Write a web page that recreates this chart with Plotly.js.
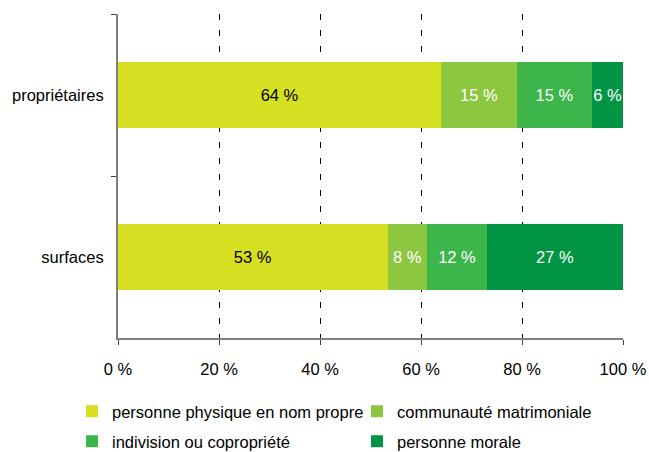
<!DOCTYPE html>
<html>
<head>
<meta charset="utf-8">
<script src="https://cdn.plot.ly/plotly-3.0.1.min.js"></script>
<style>html,body{margin:0;padding:0;background:#fff;}#chart{width:649px;height:452px;}</style>
</head>
<body>
<div id="chart"></div>
<script>
const categories = ['propriétaires', 'surfaces'];
const seriesNames = ['personne physique en nom propre', 'communauté matrimoniale', 'indivision ou copropriété', 'personne morale'];
const personnePhysique = [64.0, 53.4];
const communaute = [15.0, 7.8];
const indivision = [14.9, 11.9];
const personneMorale = [6.1, 26.9];
const xTickVals = [0, 20, 40, 60, 80, 100];
const xTickText = ['0 %', '20 %', '40 %', '60 %', '80 %', '100 %'];

const colors = ['#d6df21', '#8dc63f', '#3cb54a', '#009444'];
const textColors = ['#000000', '#ffffff', '#ffffff', '#ffffff'];
const legendIds = ['legend', 'legend', 'legend2', 'legend2'];
const seriesValues = [personnePhysique, communaute, indivision, personneMorale];

const FONT = 'Liberation Sans, Arial, sans-serif';
const FS = 16.5;

const traces = seriesValues.map((vals, i) => ({
  type: 'bar',
  orientation: 'h',
  name: seriesNames[i],
  y: categories,
  x: vals,
  marker: {color: colors[i], line: {width: 0}},
  texttemplate: '%{x:.0f} %',
  textposition: 'inside',
  insidetextanchor: 'middle',
  textangle: 0,
  constraintext: 'none',
  textfont: {family: FONT, size: FS, color: textColors[i]},
  legend: legendIds[i],
  hoverinfo: 'skip'
}));

const legendBase = {
  orientation: 'h',
  traceorder: 'normal',
  xref: 'paper', yref: 'paper',
  xanchor: 'left', yanchor: 'top',
  entrywidth: 240, entrywidthmode: 'pixels',
  font: {family: FONT, size: FS, color: '#000000'},
  bgcolor: 'rgba(0,0,0,0)'
};

const layout = {
  width: 649,
  height: 452,
  barmode: 'stack',
  bargap: 0.59,
  margin: {l: 118, r: 26, t: 14, b: 114, autoexpand: false},
  paper_bgcolor: '#ffffff',
  plot_bgcolor: '#ffffff',
  font: {family: FONT, size: FS, color: '#000000'},
  showlegend: true,
  xaxis: {
    range: [0, 100],
    tickvals: xTickVals,
    ticktext: xTickText,
    showgrid: true,
    gridcolor: '#000000',
    gridwidth: 1,
    griddash: '6px,10px',
    zeroline: false,
    showline: true,
    linecolor: '#808080',
    linewidth: 2,
    ticks: 'outside',
    ticklen: 5,
    tickcolor: '#404040',
    ticklabelstandoff: 10,
    tickfont: {family: FONT, size: FS, color: '#000000'},
    fixedrange: true
  },
  yaxis: {
    type: 'category',
    autorange: 'reversed',
    showgrid: false,
    zeroline: false,
    showline: true,
    linecolor: '#808080',
    linewidth: 2,
    ticks: 'outside',
    tickson: 'boundaries',
    ticklen: 5,
    tickcolor: '#404040',
    ticklabelstandoff: 9,
    tickfont: {family: FONT, size: FS, color: '#000000'},
    fixedrange: true
  },
  legend: Object.assign({}, legendBase, {x: (72 - 118) / 505, y: (338 - 394) / 324}),
  legend2: Object.assign({}, legendBase, {x: (72 - 118) / 505, y: (338 - 424) / 324})
};

Plotly.newPlot('chart', traces, layout, {staticPlot: true, displayModeBar: false});
</script>
</body>
</html>
